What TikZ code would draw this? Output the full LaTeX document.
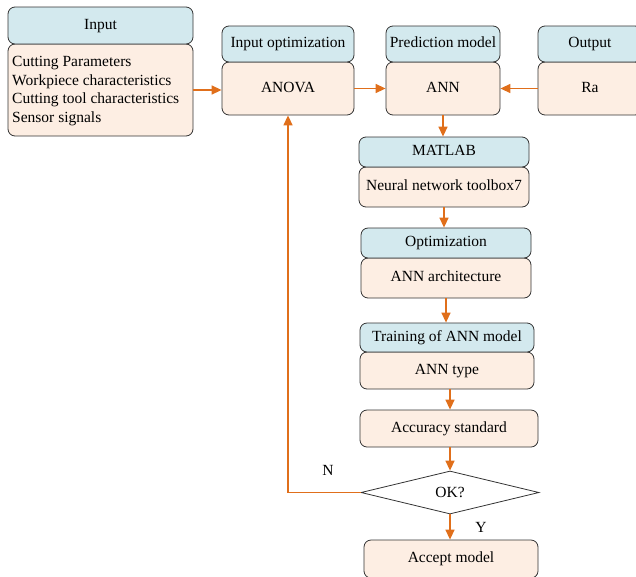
\documentclass[tikz,border=0pt]{standalone}
\usepackage{fontspec}
\setmainfont{Liberation Serif}
\usetikzlibrary{shapes.geometric,arrows.meta}
\definecolor{hdr}{HTML}{D3E9EE}
\definecolor{bdy}{HTML}{FDEEE3}
\definecolor{arr}{HTML}{E06F1B}
\definecolor{edge}{HTML}{333333}
\tikzset{
  box/.style={draw=edge, line width=0.8pt, rounded corners=7pt, inner sep=0pt, text height=10.5pt, text depth=3.5pt, font=\fontsize{15.5}{18.7}\selectfont},
  hbox/.style={box, fill=hdr},
  bbox/.style={box, fill=bdy},
  conn/.style={draw=arr, line width=1.4pt, -{Triangle[length=10pt,width=9pt]}},
  lbl/.style={font=\fontsize{15.5}{18.7}\selectfont}
}
\begin{document}
\begin{tikzpicture}[x=1pt,y=-1pt]
\useasboundingbox (0,0) rectangle (636,576);
\clip (0,0) rectangle (636,576);
% Input
\node[bbox, minimum width=185pt, minimum height=92pt] (inb) at (100.5,90) {};
\node[hbox, minimum width=185pt, minimum height=37pt] (inh) at (100.5,25.5) {Input};
\node[lbl, anchor=north west, align=left, inner sep=0pt] (intx) at (12,56) {Cutting Parameters\\Workpiece characteristics\\Cutting tool characteristics\\Sensor signals};
% Input optimization
\node[bbox, minimum width=132pt, minimum height=53pt] (anova) at (288,88.5) {ANOVA};
\node[hbox, minimum width=132pt, minimum height=36pt] (ioh) at (288,44) {Input optimization};
% Prediction model
\node[bbox, minimum width=114pt, minimum height=53pt] (ann) at (443,88.5) {ANN};
\node[hbox, minimum width=114pt, minimum height=36pt] (pmh) at (443,44) {Prediction model};
% Output
\node[bbox, minimum width=104pt, minimum height=53pt] (ra) at (590,88.5) {Ra};
\node[hbox, minimum width=104pt, minimum height=36pt] (outh) at (590,44) {Output};
% MATLAB
\node[bbox, minimum width=170pt, minimum height=40pt] (nnt) at (444,187) {Neural network toolbox7};
\node[hbox, minimum width=170pt, minimum height=30pt] (mat) at (444,152) {MATLAB};
% Optimization
\node[bbox, minimum width=170pt, minimum height=40pt] (arch) at (446,278) {ANN architecture};
\node[hbox, minimum width=170pt, minimum height=30pt] (opt) at (446,243) {Optimization};
% Training
\node[bbox, minimum width=174pt, minimum height=37pt] (type) at (447,370.5) {ANN type};
\node[hbox, minimum width=174pt, minimum height=29pt] (train) at (447,337.5) {Training of ANN model};
% Accuracy
\node[bbox, minimum width=178pt, minimum height=37pt] (acc) at (449,428.5) {Accuracy standard};
% Decision
\node[draw=edge, line width=0.8pt, diamond, aspect=4.14, minimum width=178pt, minimum height=43pt, inner sep=0pt, font=\fontsize{15.5}{18.7}\selectfont] (ok) at (450,492.5) {OK?};
% Accept
\node[bbox, minimum width=174pt, minimum height=38pt] (acpt) at (451,559) {Accept model};
% connectors
\draw[conn] (inb.east |- 0,90) -- (anova.west |- 0,90);
\draw[conn] (anova.east) -- (ann.west);
\draw[conn] (ra.west) -- (ann.east);
\draw[conn] (ann.south) -- (ann.south |- mat.north);
\draw[conn] (nnt.south) -- (nnt.south |- opt.north);
\draw[conn] (arch.south) -- (arch.south |- train.north);
\draw[conn] (450,389) coordinate (ts) -- (acc.north -| ts);
\draw[conn] (acc.south -| ok.north) -- (ok.north);
\draw[conn] (ok.south) -- (ok.south |- acpt.north);
\draw[conn] (ok.west) -- (anova.south |- ok.west) -- (anova.south);
\node[lbl] (nl) at (328,470) {N};
\node[lbl] (yl) at (481,527) {Y};
\end{tikzpicture}
\end{document}
